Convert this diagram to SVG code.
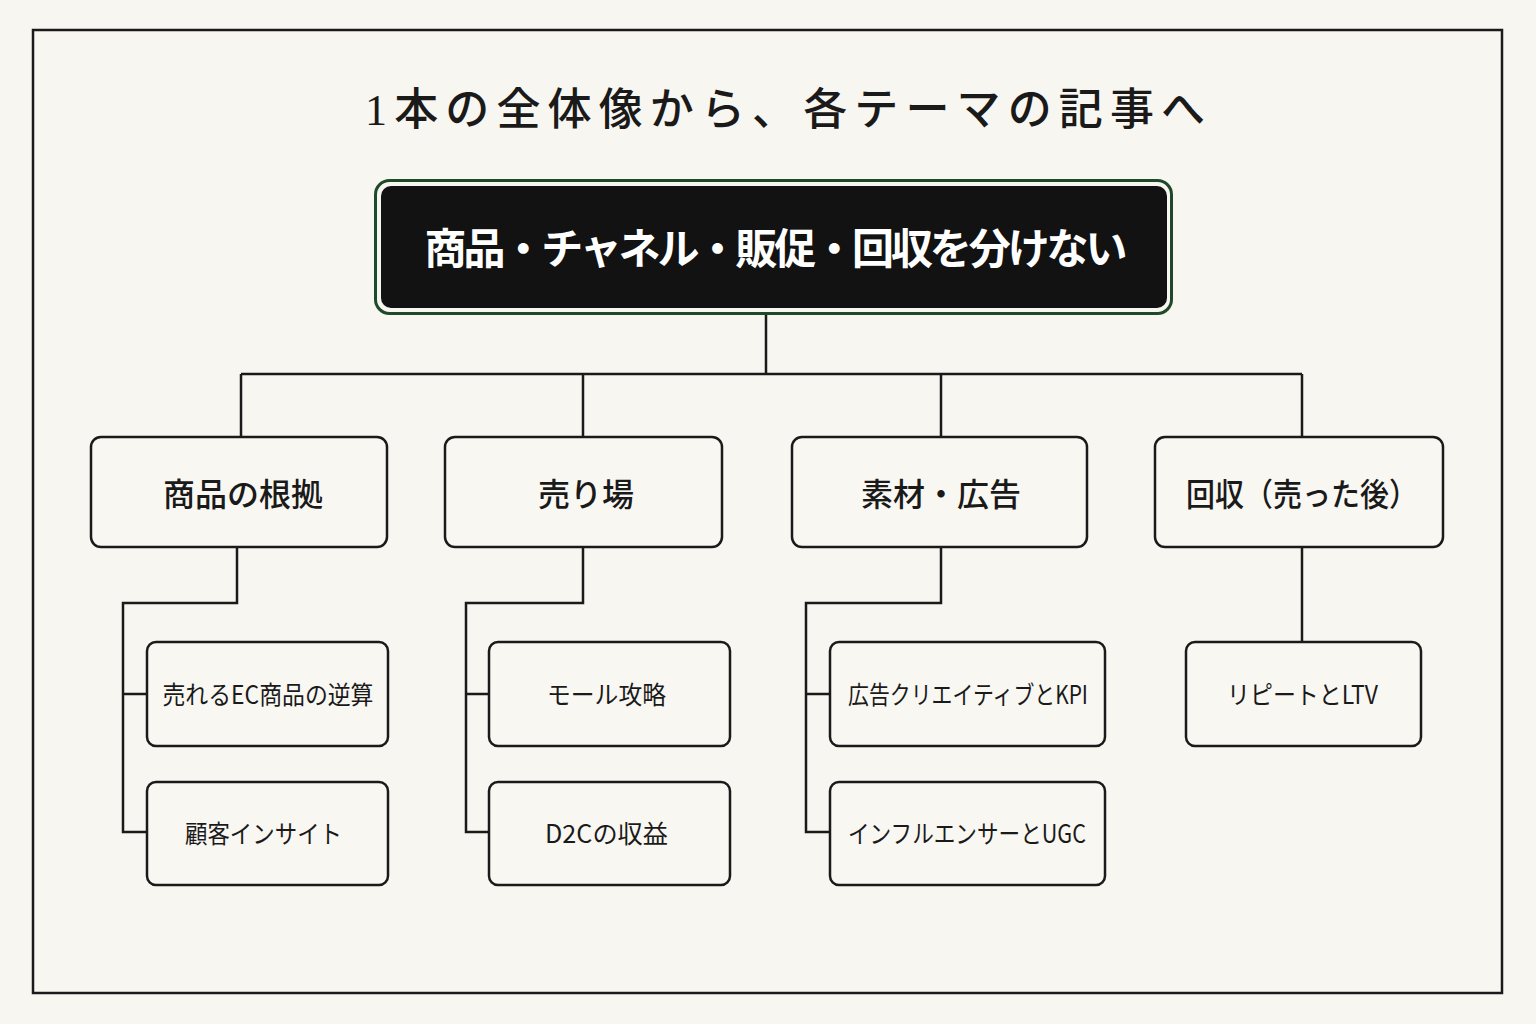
<svg xmlns="http://www.w3.org/2000/svg" width="1536" height="1024" viewBox="0 0 1536 1024">
  <style>
    .bg { fill: #f8f6f0; }
    .frame { fill: none; stroke: #1a1a1a; stroke-width: 2.5; }
    .title { font-family: "Liberation Serif", "Noto Sans CJK JP", serif; font-size: 44px; font-weight: 500; fill: #1a1a1a; text-anchor: middle; }
    .root-outer { fill: #f8f6f0; stroke: #1e4a2b; stroke-width: 3; }
    .root-inner { fill: #121212; }
    .root-text { font-family: "Noto Sans CJK JP", "Noto Sans", sans-serif; font-size: 42px; font-weight: 700; fill: #ffffff; text-anchor: middle; }
    .box { fill: #f9f7f2; stroke: #1a1a1a; stroke-width: 2.5; }
    .cat-text { font-family: "Noto Sans CJK JP", "Noto Sans", sans-serif; font-size: 32px; font-weight: 500; fill: #1a1a1a; text-anchor: middle; }
    .leaf-text { font-family: "Noto Sans CJK JP", "Noto Sans", sans-serif; font-size: 25px; font-weight: 400; fill: #1a1a1a; text-anchor: middle; }
    .conn { fill: none; stroke: #1a1a1a; stroke-width: 2.5; stroke-linejoin: miter; }
  </style>

  <rect class="bg" x="0" y="0" width="1536" height="1024"/>
  <rect class="frame" x="33" y="30" width="1469" height="963"/>

  <text class="title" x="785" y="125" textLength="840">1本の全体像から、各テーマの記事へ</text>

  <g id="connectors">
    <path class="conn" d="M766 315 V374 M241 374 H1302 M241 374 V437 M583 374 V437 M941 374 V437 M1302 374 V437"/>
    <path class="conn" d="M237 547 V603 H123 V832 H147 M123 694 H147"/>
    <path class="conn" d="M583 547 V603 H466 V832 H489 M466 694 H489"/>
    <path class="conn" d="M941 547 V603 H806 V832 H830 M806 694 H830"/>
    <path class="conn" d="M1302 547 V642"/>
  </g>

  <g id="root">
    <rect class="root-outer" x="375.5" y="180.5" width="796" height="133" rx="14"/>
    <rect class="root-inner" x="381" y="186" width="786" height="122" rx="10"/>
    <text class="root-text" x="776" y="264" textLength="703">商品・チャネル・販促・回収を分けない</text>
  </g>

  <g id="cat-product">
    <rect class="box" x="91" y="437" width="296" height="110" rx="10"/>
    <text class="cat-text" x="243" y="506">商品の根拠</text>
  </g>
  <g id="cat-channel">
    <rect class="box" x="445" y="437" width="277" height="110" rx="10"/>
    <text class="cat-text" x="586" y="506">売り場</text>
  </g>
  <g id="cat-ads">
    <rect class="box" x="792" y="437" width="295" height="110" rx="10"/>
    <text class="cat-text" x="941" y="506">素材・広告</text>
  </g>
  <g id="cat-recovery">
    <rect class="box" x="1155" y="437" width="288" height="110" rx="10"/>
    <text class="cat-text" x="1302" y="506" textLength="232" lengthAdjust="spacingAndGlyphs">回収（売った後）</text>
  </g>

  <g id="leaf-ec">
    <rect class="box" x="147" y="642" width="241" height="104" rx="9"/>
    <text class="leaf-text" x="268" y="704" textLength="211" lengthAdjust="spacingAndGlyphs">売れるEC商品の逆算</text>
  </g>
  <g id="leaf-insight">
    <rect class="box" x="147" y="782" width="241" height="103" rx="9"/>
    <text class="leaf-text" x="263.5" y="843" textLength="157" lengthAdjust="spacingAndGlyphs">顧客インサイト</text>
  </g>
  <g id="leaf-mall">
    <rect class="box" x="489" y="642" width="241" height="104" rx="9"/>
    <text class="leaf-text" x="606.5" y="704" textLength="119" lengthAdjust="spacingAndGlyphs">モール攻略</text>
  </g>
  <g id="leaf-d2c">
    <rect class="box" x="489" y="782" width="241" height="103" rx="9"/>
    <text class="leaf-text" x="606.5" y="843" textLength="123" lengthAdjust="spacingAndGlyphs">D2Cの収益</text>
  </g>
  <g id="leaf-creative">
    <rect class="box" x="830" y="642" width="275" height="104" rx="9"/>
    <text class="leaf-text" x="968" y="704" textLength="240" lengthAdjust="spacingAndGlyphs">広告クリエイティブとKPI</text>
  </g>
  <g id="leaf-influencer">
    <rect class="box" x="830" y="782" width="275" height="103" rx="9"/>
    <text class="leaf-text" x="967" y="843" textLength="238" lengthAdjust="spacingAndGlyphs">インフルエンサーとUGC</text>
  </g>
  <g id="leaf-ltv">
    <rect class="box" x="1186" y="642" width="235" height="104" rx="9"/>
    <text class="leaf-text" x="1302.5" y="704" textLength="151" lengthAdjust="spacingAndGlyphs">リピートとLTV</text>
  </g>
</svg>
